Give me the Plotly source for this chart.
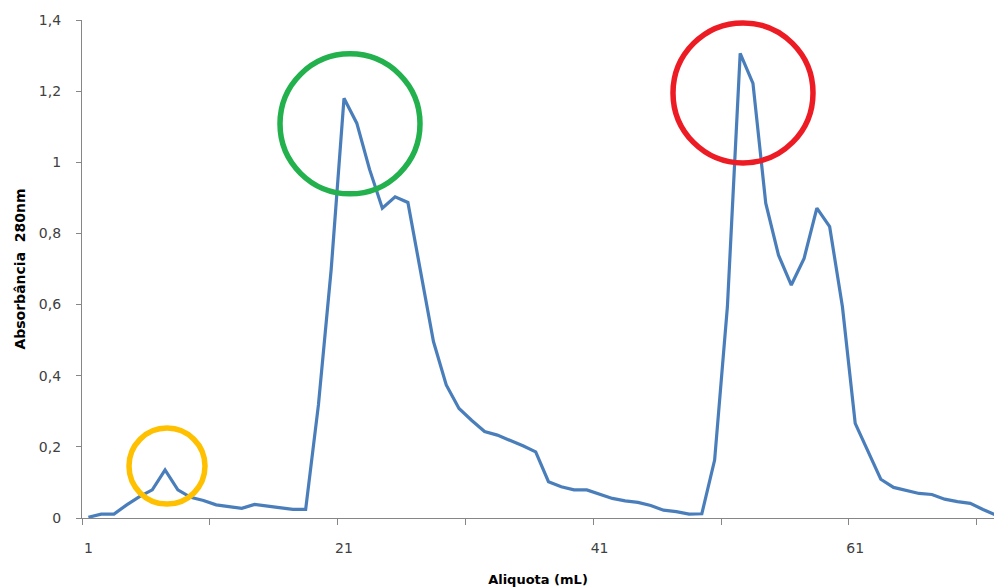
import plotly.graph_objects as go

# Data: aliquot index (category) and absorbance at 280 nm
aliquota = list(range(1, 73))
absorbancia = [
    0.002, 0.011, 0.011, 0.037, 0.060, 0.079, 0.135, 0.079, 0.058, 0.049,
    0.037, 0.032, 0.027, 0.038, 0.034, 0.029, 0.024, 0.024, 0.318, 0.700,
    1.180, 1.110, 0.980, 0.871, 0.903, 0.887, 0.690, 0.496, 0.374, 0.308,
    0.274, 0.243, 0.233, 0.219, 0.203, 0.186, 0.102, 0.088, 0.079, 0.079,
    0.067, 0.055, 0.048, 0.044, 0.035, 0.022, 0.018, 0.011, 0.012, 0.163,
    0.594, 1.306, 1.222, 0.885, 0.739, 0.655, 0.730, 0.871, 0.819, 0.594,
    0.266, 0.185, 0.109, 0.086, 0.077, 0.069, 0.066, 0.053, 0.046, 0.041,
    0.024, 0.008,
]

x_label_vals = [1, 21, 41, 61]
x_label_text = ["1", "21", "41", "61"]
y_tick_vals = [0, 0.2, 0.4, 0.6, 0.8, 1.0, 1.2, 1.4]

# Highlight circles: centre (category, absorbance), colour
circle_x = [7.15, 21.47, 52.22]
circle_y = [0.146, 1.108, 1.195]
circle_r_px = [38, 70, 70]
circle_colors = ["#FFC000", "#22B14C", "#ED1C24"]

fig = go.Figure()
fig.add_trace(go.Scatter(
    x=aliquota, y=absorbancia, mode="lines",
    line=dict(color="#4A7EBB", width=3.2),
    hoverinfo="x+y", showlegend=False,
))

for cx, cy, r, c in zip(circle_x, circle_y, circle_r_px, circle_colors):
    fig.add_shape(
        type="circle", xref="x", yref="y",
        xsizemode="pixel", ysizemode="pixel",
        xanchor=cx, yanchor=cy,
        x0=-r, x1=r, y0=-r, y1=r,
        line=dict(color=c, width=5.5),
    )

axis_col = "#868686"
fig.update_layout(
    width=994, height=587,
    margin=dict(l=82, r=0, t=20, b=69),
    paper_bgcolor="white", plot_bgcolor="white",
    separators=", ",
    font=dict(family="DejaVu Sans", size=14, color="#404040"),
    xaxis=dict(
        range=[0.5, 71.86],
        tickmode="array", tickvals=x_label_vals, ticktext=x_label_text,
        ticks="", showgrid=False, zeroline=False,
        showline=True, linecolor=axis_col, linewidth=1.3,
        ticklabelstandoff=17,
        minor=dict(tickmode="linear", tick0=0.5, dtick=10, ticks="outside",
                   ticklen=6, tickcolor=axis_col, tickwidth=1.3, showgrid=False),
        title=dict(text="<b>Aliquota (mL)</b>", font=dict(size=13, color="#000000"),
                   standoff=20),
    ),
    yaxis=dict(
        range=[0, 1.4],
        tickmode="array", tickvals=y_tick_vals,
        ticks="outside", ticklen=5, tickcolor=axis_col, tickwidth=1.3,
        showgrid=False, zeroline=False,
        showline=True, linecolor=axis_col, linewidth=1.3,
        ticklabelstandoff=12,
        title=dict(text="<b>Absorbância  280nm</b>", font=dict(size=14, color="#000000"),
                   standoff=9),
    ),
)

fig.write_html("out.html")
